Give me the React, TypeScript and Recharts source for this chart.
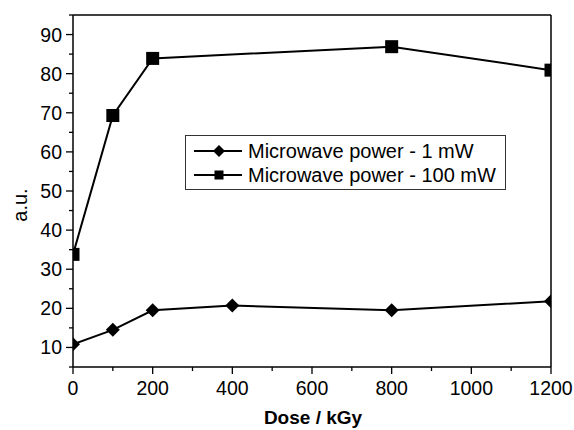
import { LineChart, Line, XAxis, YAxis, Legend, ReferenceLine } from "recharts";

// dose (kGy) / signal (a.u.)
const doses1mW = [0, 100, 200, 400, 800, 1200];
const values1mW = [10.8, 14.5, 19.5, 20.7, 19.5, 21.8];
const doses100mW = [0, 100, 200, 800, 1200];
const values100mW = [33.8, 69.3, 83.9, 86.9, 80.9];

const seriesNames = ["Microwave power - 1 mW", "Microwave power - 100 mW"];

const xMajorTicks = [0, 200, 400, 600, 800, 1000, 1200];
const xMinorTicks = [100, 300, 500, 700, 900, 1100];
const yMajorTicks = [10, 20, 30, 40, 50, 60, 70, 80, 90];
const yMinorTicks = [5, 15, 25, 35, 45, 55, 65, 75, 85, 95];

const data1mW = doses1mW.map((d, i) => ({ dose: d, value: values1mW[i] }));
const data100mW = doses100mW.map((d, i) => ({ dose: d, value: values100mW[i] }));

const FONT = "'Liberation Sans', Arial, sans-serif";
const W = 574;
const H = 430;
const MARGIN = { top: 15, right: 23, bottom: 0, left: 0 };
const Y_AXIS_W = 73;
const X_AXIS_H = 63;
// plot frame, used to clip the markers like the original does
const FRAME = {
  x: MARGIN.left + Y_AXIS_W,
  y: MARGIN.top,
  w: W - MARGIN.left - MARGIN.right - Y_AXIS_W,
  h: H - MARGIN.top - MARGIN.bottom - X_AXIS_H,
};

const XTick = (props: any) => {
  const { x, y, payload } = props;
  const major = xMajorTicks.includes(payload.value);
  return (
    <g>
      <line x1={x} x2={x} y1={y} y2={y + (major ? 7 : 4)} stroke="#000" strokeWidth={1.3} />
      {major && (
        <text x={x} y={y + 28} textAnchor="middle" fontSize={19.5} fontFamily={FONT} fill="#000">
          {payload.value}
        </text>
      )}
    </g>
  );
};

const YTick = (props: any) => {
  const { x, y, payload } = props;
  const major = yMajorTicks.includes(payload.value);
  return (
    <g>
      <line x1={x} x2={x - (major ? 7 : 4)} y1={y} y2={y} stroke="#000" strokeWidth={1.3} />
      {major && (
        <text x={x - 11} y={y + 7} textAnchor="end" fontSize={19.5} fontFamily={FONT} fill="#000">
          {payload.value}
        </text>
      )}
    </g>
  );
};

const Clipped = ({ children }: { children: any }) => (
  <svg x={FRAME.x} y={FRAME.y} width={FRAME.w} height={FRAME.h} overflow="hidden">
    <g transform={`translate(${-FRAME.x},${-FRAME.y})`}>{children}</g>
  </svg>
);

const Square = (props: any) => {
  const { cx, cy, index } = props;
  if (cx == null || cy == null) return <g key={index} />;
  return (
    <Clipped key={index}>
      <rect x={cx - 6.5} y={cy - 6.5} width={13} height={13} fill="#000" />
    </Clipped>
  );
};

const Diamond = (props: any) => {
  const { cx, cy, index } = props;
  if (cx == null || cy == null) return <g key={index} />;
  const r = 7;
  return (
    <Clipped key={index}>
      <path d={`M${cx},${cy - r} L${cx + r},${cy} L${cx},${cy + r} L${cx - r},${cy} Z`} fill="#000" />
    </Clipped>
  );
};

const LegendBox = () => (
  <div
    style={{
      border: "1px solid #333",
      background: "#fff",
      width: 321,
      height: 55,
      boxSizing: "border-box",
      fontFamily: FONT,
      fontSize: 20,
      color: "#000",
      paddingTop: 3,
    }}
  >
    {seriesNames.map((name, i) => (
      <div key={name} style={{ display: "flex", alignItems: "center", height: 24 }}>
        <svg width={62} height={20} style={{ flex: "none" }}>
          <line x1={8} x2={56} y1={10} y2={10} stroke="#000" strokeWidth={2} />
          {i === 0 ? (
            <path d="M33,4 L39,10 L33,16 L27,10 Z" fill="#000" />
          ) : (
            <rect x={28.5} y={5.5} width={9} height={9} fill="#000" />
          )}
        </svg>
        <span style={{ whiteSpace: "nowrap" }}>{name}</span>
      </div>
    ))}
  </div>
);

const YLabel = () => (
  <text
    x={27}
    y={205}
    transform="rotate(-90 27 205)"
    textAnchor="middle"
    fontSize={20}
    fontFamily={FONT}
    fill="#000"
  >
    a.u.
  </text>
);

const XLabel = () => (
  <text x={313} y={424} textAnchor="middle" fontSize={19} fontWeight="bold" fontFamily={FONT} fill="#000">
    Dose / kGy
  </text>
);

export default function App() {
  return (
    <div style={{ position: "absolute", left: 0, top: 0, background: "#fff" }}>
      <LineChart width={W} height={H} margin={MARGIN}>
        <XAxis
          dataKey="dose"
          type="number"
          domain={[0, 1200]}
          ticks={[...xMajorTicks, ...xMinorTicks].sort((a, b) => a - b)}
          interval={0}
          height={X_AXIS_H}
          tickSize={0}
          tickMargin={0}
          tickLine={false}
          tick={<XTick />}
          axisLine={{ stroke: "#000", strokeWidth: 1.5 }}
          allowDataOverflow
          label={<XLabel />}
        />
        <YAxis
          type="number"
          domain={[5, 95]}
          ticks={[...yMajorTicks, ...yMinorTicks].sort((a, b) => a - b)}
          interval={0}
          width={Y_AXIS_W}
          tickSize={0}
          tickMargin={0}
          tickLine={false}
          tick={<YTick />}
          axisLine={{ stroke: "#000", strokeWidth: 1.5 }}
          allowDataOverflow
          label={<YLabel />}
        />
        <ReferenceLine y={95} stroke="#000" strokeWidth={1.5} />
        <ReferenceLine x={1200} stroke="#000" strokeWidth={1.5} />
        <Legend
          layout="horizontal"
          verticalAlign="middle"
          align="center"
          content={<LegendBox />}
          wrapperStyle={{ left: 185, top: 135, width: 321, height: 55 }}
        />
        <Line
          data={data1mW}
          dataKey="value"
          name={seriesNames[0]}
          stroke="#000"
          strokeWidth={2}
          dot={<Diamond />}
          activeDot={false}
          isAnimationActive={false}
        />
        <Line
          data={data100mW}
          dataKey="value"
          name={seriesNames[1]}
          stroke="#000"
          strokeWidth={2}
          dot={<Square />}
          activeDot={false}
          isAnimationActive={false}
        />
      </LineChart>
    </div>
  );
}
